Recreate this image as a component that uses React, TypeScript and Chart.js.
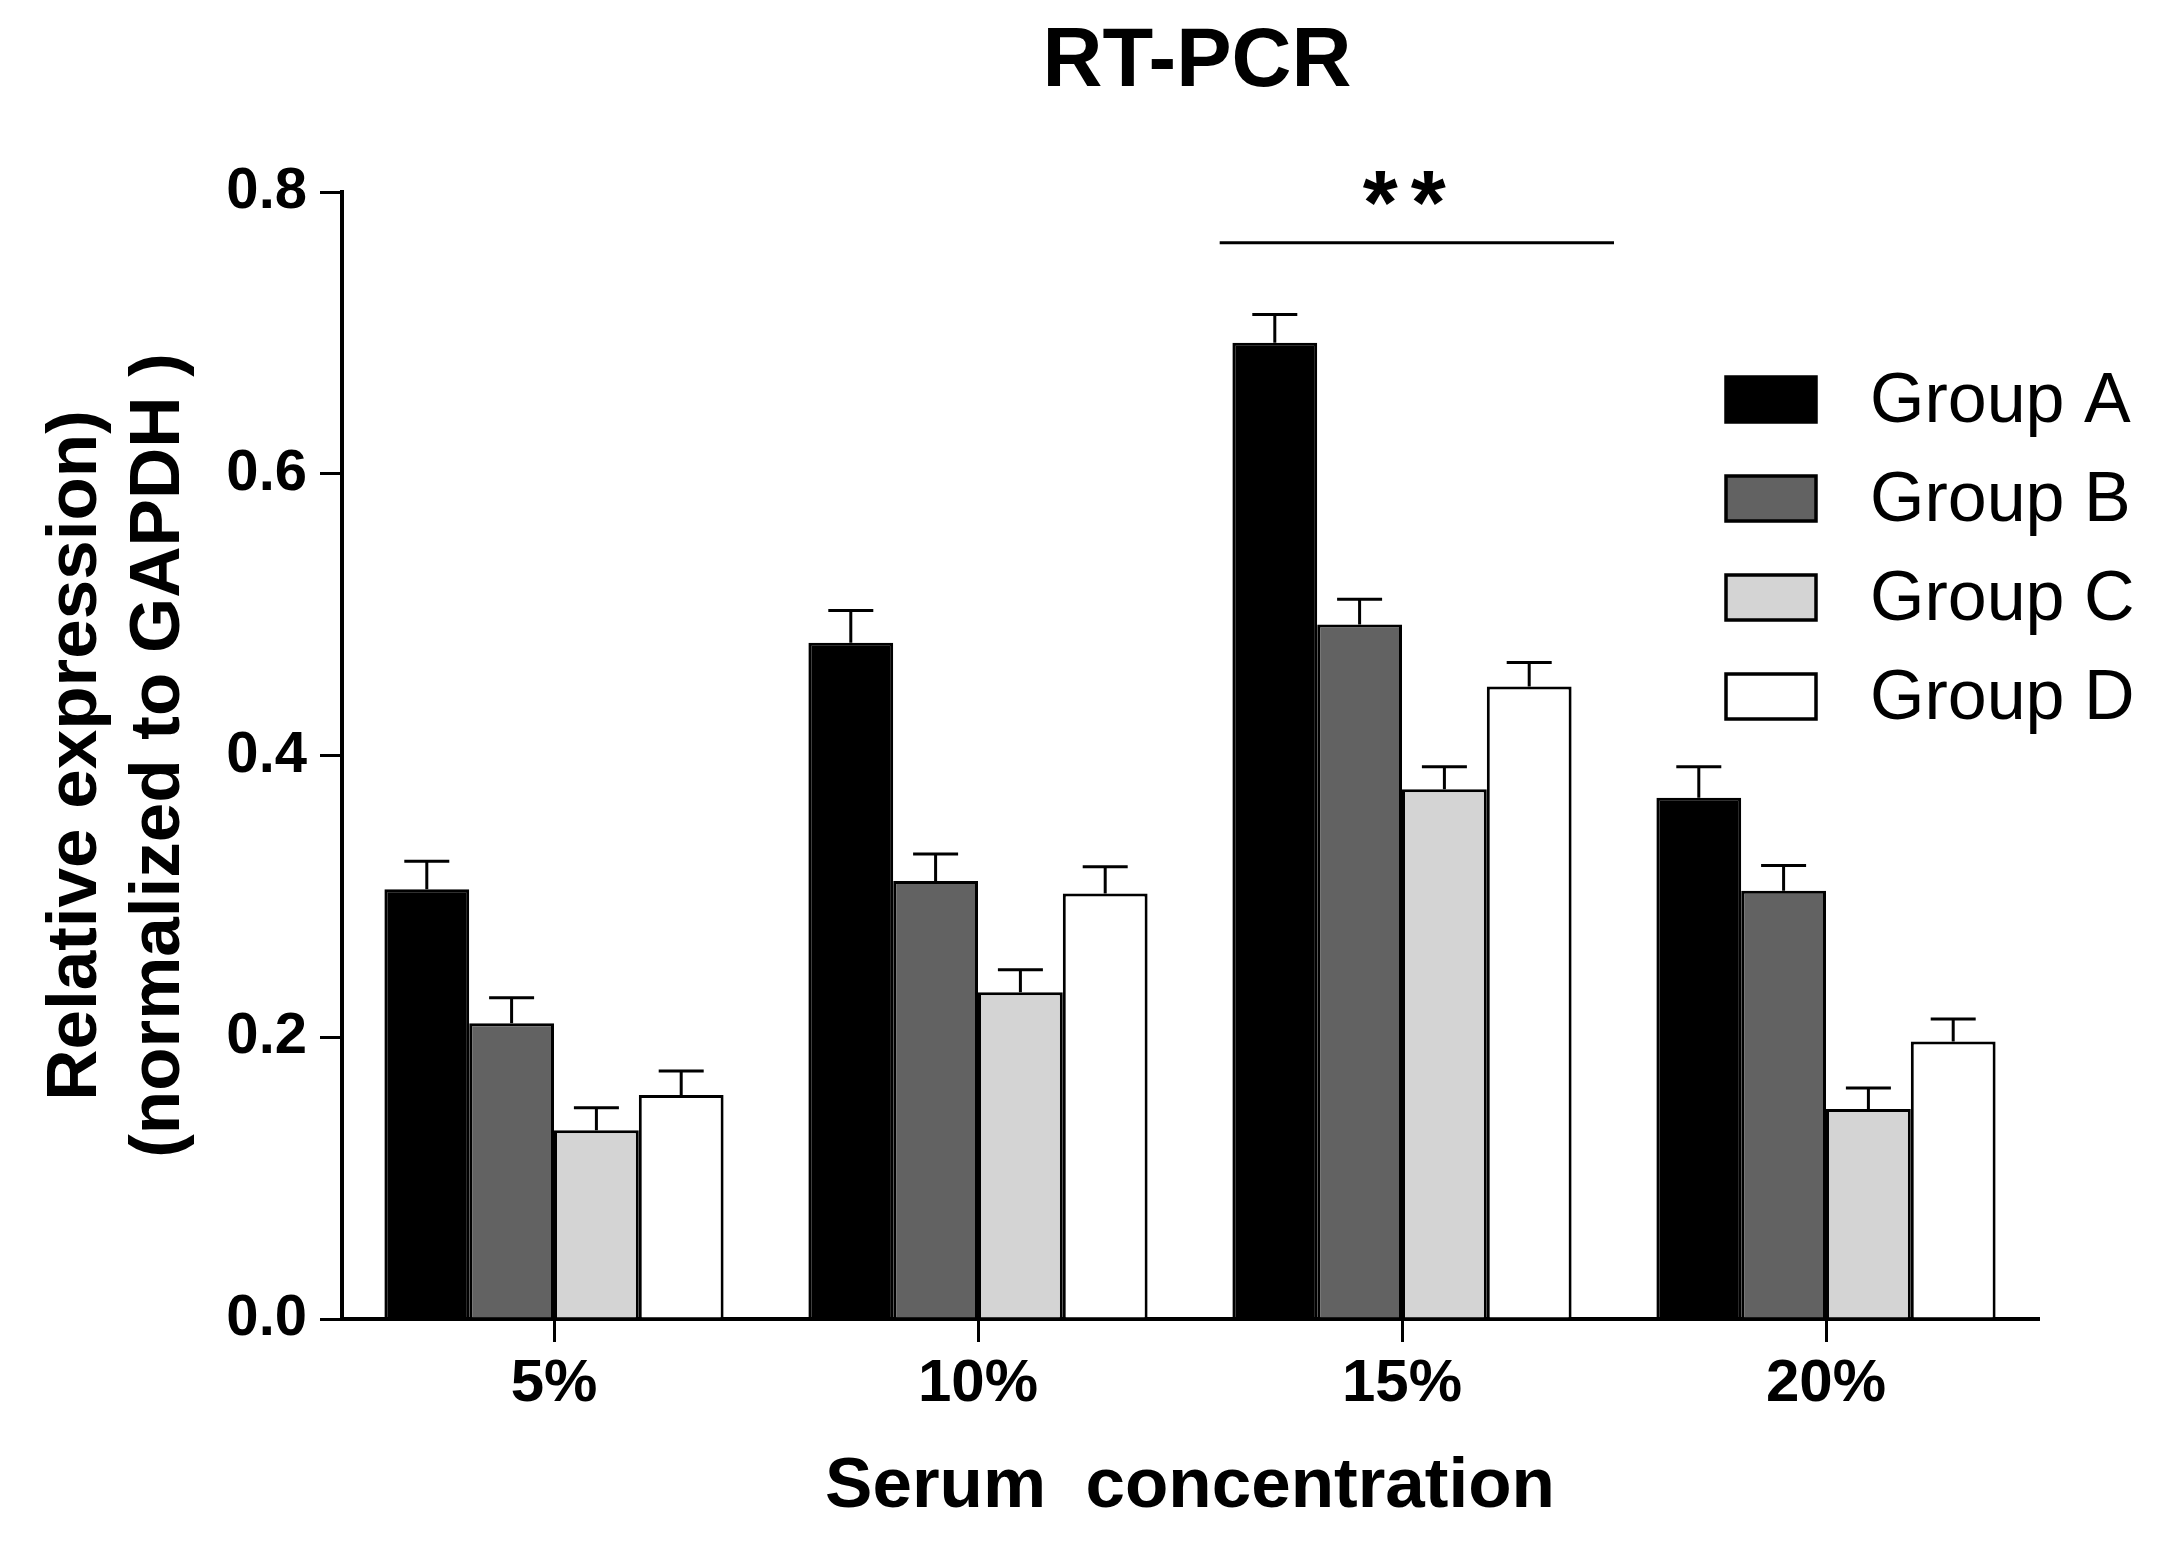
import React, { useEffect, useRef } from 'react';
import { Chart, registerables } from 'chart.js';

Chart.register(...registerables);

// data
const categories = ['5%', '10%', '15%', '20%'];
const groupNames = ['Group A', 'Group B', 'Group C', 'Group D'];
const groupA = [0.305, 0.48, 0.693, 0.37];
const groupB = [0.21, 0.311, 0.493, 0.304];
const groupC = [0.134, 0.232, 0.376, 0.149];
const groupD = [0.159, 0.302, 0.449, 0.197];
const errA = [0.02, 0.023, 0.02, 0.022];
const errB = [0.018, 0.019, 0.018, 0.018];
const errC = [0.016, 0.016, 0.016, 0.015];
const errD = [0.017, 0.019, 0.017, 0.016];
const yTicks = [0, 0.2, 0.4, 0.6, 0.8];

// significance bar over the 15% group
const sigFrom = 1.57;
const sigTo = 2.5;
const sigValue = 0.764;
const sigTextValue = 0.77;
const sigText = '**';

const chartTitle = 'RT-PCR';
const fills = ['#000000', '#626262', '#d4d4d4', '#ffffff'];
const FONT = '"Liberation Sans", Arial, sans-serif';

const errorBars = {
  id: 'errorBars',
  afterDatasetsDraw(chart: any) {
    const { ctx, scales } = chart;
    const errs = [errA, errB, errC, errD];
    ctx.save();
    ctx.strokeStyle = '#000';
    ctx.lineWidth = 3;
    chart.data.datasets.forEach((ds: any, i: number) => {
      const meta = chart.getDatasetMeta(i);
      meta.data.forEach((el: any, j: number) => {
        const top = scales.y.getPixelForValue(ds.data[j] + errs[i][j]);
        ctx.beginPath();
        ctx.moveTo(el.x, el.y);
        ctx.lineTo(el.x, top);
        ctx.moveTo(el.x - 22.5, top);
        ctx.lineTo(el.x + 22.5, top);
        ctx.stroke();
      });
    });
    ctx.restore();
  },
};

const significance = {
  id: 'significance',
  afterDatasetsDraw(chart: any) {
    const { ctx, scales } = chart;
    const x1 = scales.x.getPixelForValue(sigFrom);
    const x2 = scales.x.getPixelForValue(sigTo);
    const y = scales.y.getPixelForValue(sigValue);
    ctx.save();
    ctx.strokeStyle = '#000';
    ctx.lineWidth = 3;
    ctx.beginPath();
    ctx.moveTo(x1, y);
    ctx.lineTo(x2, y);
    ctx.stroke();
    ctx.fillStyle = '#000';
    ctx.font = `bold 90px ${FONT}`;
    (ctx as any).letterSpacing = '13px';
    ctx.textAlign = 'center';
    ctx.textBaseline = 'alphabetic';
    ctx.fillText(sigText, (x1 + x2) / 2 - 6, scales.y.getPixelForValue(sigTextValue));
    ctx.restore();
  },
};

// title and legend drawn over the canvas
const decorations = {
  id: 'decorations',
  afterDraw(chart: any) {
    const { ctx } = chart;
    ctx.save();
    ctx.fillStyle = '#000';
    ctx.font = `bold 83px ${FONT}`;
    ctx.textAlign = 'center';
    ctx.textBaseline = 'alphabetic';
    ctx.fillText(chartTitle, 1197, 86);

    ctx.font = `70px ${FONT}`;
    ctx.textBaseline = 'middle';
    ctx.textAlign = 'left';
    chart.data.datasets.forEach((ds: any, i: number) => {
      const cy = 399 + i * 99;
      ctx.fillStyle = ds.backgroundColor;
      ctx.fillRect(1726, cy - 22, 90, 45);
      ctx.strokeStyle = '#000';
      ctx.lineWidth = 3.5;
      ctx.strokeRect(1726, cy - 22, 90, 45);
      ctx.fillStyle = '#000';
      ctx.fillText(ds.label, 1870, cy + 4);
    });
    ctx.restore();
  },
};

export default function App() {
  const canvasRef = useRef<HTMLCanvasElement>(null);
  const chartRef = useRef<Chart | null>(null);

  useEffect(() => {
    if (!canvasRef.current) return;
    if (chartRef.current) chartRef.current.destroy();

    const series = [groupA, groupB, groupC, groupD];

    chartRef.current = new Chart(canvasRef.current, {
      type: 'bar',
      data: {
        labels: categories,
        datasets: series.map((values, i) => ({
          label: groupNames[i],
          data: values,
          backgroundColor: fills[i],
          borderColor: '#000000',
          borderWidth: 3,
          barPercentage: 1,
          categoryPercentage: 0.8,
        })),
      },
      options: {
        responsive: false,
        animation: false,
        devicePixelRatio: 1,
        layout: { padding: { left: 0, right: 137, top: 192, bottom: 0 } },
        plugins: {
          legend: { display: false },
          tooltip: { enabled: false },
          title: { display: false },
        },
        scales: {
          x: {
            offset: true,
            afterFit: (scale: any) => {
              scale.height = 223;
            },
            grid: {
              offset: false,
              drawOnChartArea: false,
              drawTicks: true,
              tickLength: 23,
              lineWidth: 3,
              color: '#000',
            },
            border: { display: true, color: '#000', width: 4 },
            ticks: {
              color: '#000',
              padding: 6,
              font: { family: FONT, size: 60, weight: 'bold' },
            },
            title: {
              display: true,
              text: 'Serum  concentration',
              color: '#000',
              font: { family: FONT, size: 71, weight: 'bold', lineHeight: 1.2 },
              padding: { top: 0, bottom: 12 },
            },
          },
          y: {
            min: 0,
            max: 0.8,
            afterFit: (scale: any) => {
              scale.width = 342;
            },
            afterBuildTicks: (scale: any) => {
              scale.ticks = yTicks.map((v) => ({ value: v }));
            },
            grid: {
              drawOnChartArea: false,
              drawTicks: true,
              tickLength: 22,
              lineWidth: 3,
              color: '#000',
            },
            border: { display: true, color: '#000', width: 4 },
            ticks: {
              color: '#000',
              padding: 13,
              font: { family: FONT, size: 58, weight: 'bold' },
              callback: (value: any) => Number(value).toFixed(1),
            },
            title: {
              display: true,
              text: ['Relative expression)', '(normalized to GAPDH )'],
              color: '#000',
              font: { family: FONT, size: 71, weight: 'bold', lineHeight: 83 / 71 },
              padding: { top: 35, bottom: 0 },
            },
          },
        },
      },
      plugins: [errorBars, significance, decorations],
    });

    return () => {
      if (chartRef.current) {
        chartRef.current.destroy();
        chartRef.current = null;
      }
    };
  }, []);

  return (
    <div style={{ position: 'absolute', left: 0, top: 0, width: 2175, height: 1542, background: '#fff' }}>
      <canvas ref={canvasRef} width={2175} height={1542}></canvas>
    </div>
  );
}
